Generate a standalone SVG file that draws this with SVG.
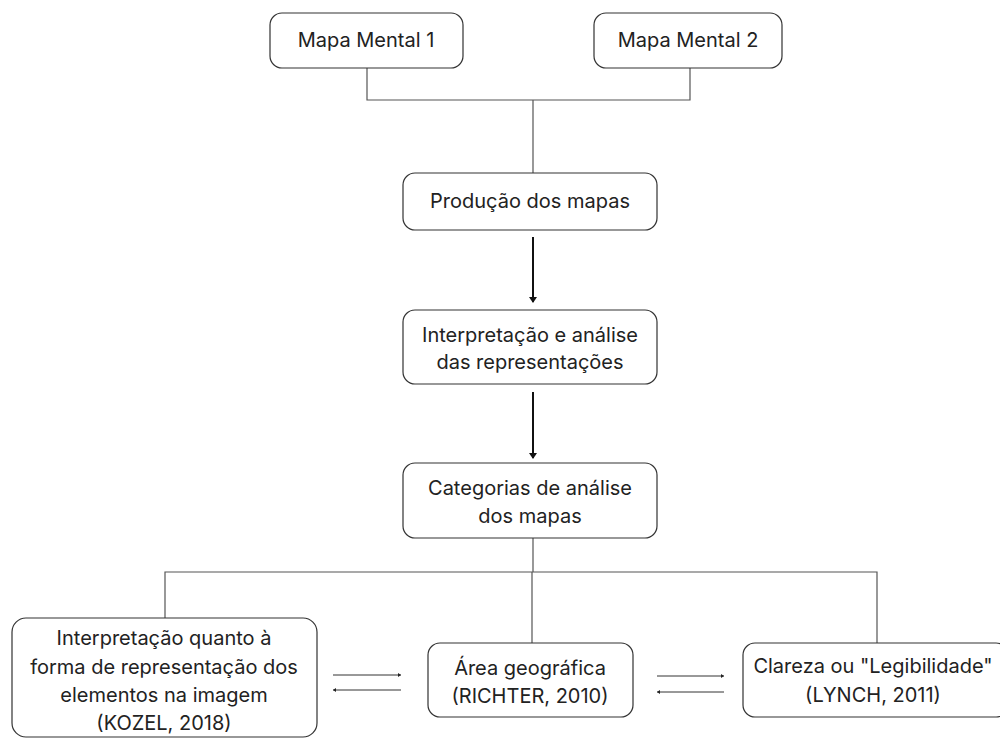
<svg xmlns="http://www.w3.org/2000/svg" width="1000" height="738" viewBox="0 0 1000 738">
<style>
.box{fill:#fff;stroke:#333;stroke-width:1.2}
.t{font-family:Inter,"Open Sans",sans-serif;font-size:20px;fill:#222;text-anchor:middle}
.c{fill:none;stroke:#555;stroke-width:1.2}
.a{fill:none;stroke:#111;stroke-width:2}
.s{fill:none;stroke:#333;stroke-width:1}
</style>
<defs>
<marker id="ah" markerWidth="8" markerHeight="8" refX="5" refY="4" orient="auto" markerUnits="userSpaceOnUse"><path d="M0,0 L6,4 L0,8 z" fill="#111"/></marker>
<marker id="sh" markerWidth="4" markerHeight="4" refX="3" refY="2" orient="auto" markerUnits="userSpaceOnUse"><path d="M0,0 L3,2 L0,4 z" fill="#222"/></marker>
</defs>
<rect width="1000" height="738" fill="#fff"/>
<g id="connectors">
<path class="c" d="M367,68 V100 H690 V68 M533,100 V173"/>
<line class="a" x1="533" y1="237" x2="533" y2="302" marker-end="url(#ah)"/>
<line class="a" x1="533" y1="392" x2="533" y2="458" marker-end="url(#ah)"/>
<path class="c" d="M533,538 V572 M165,618 V572 H877 V643 M532,572 V643"/>
<line class="s" x1="333" y1="675" x2="401" y2="675" marker-end="url(#sh)"/>
<line class="s" x1="401" y1="690" x2="333" y2="690" marker-end="url(#sh)"/>
<line class="s" x1="657" y1="676" x2="724" y2="676" marker-end="url(#sh)"/>
<line class="s" x1="724" y1="692" x2="657" y2="692" marker-end="url(#sh)"/>
</g>
<g id="mapa1"><rect class="box" x="270" y="13" width="193" height="55" rx="12"/><text class="t" x="366" y="47">Mapa Mental 1</text></g>
<g id="mapa2"><rect class="box" x="594" y="13" width="188" height="55" rx="12"/><text class="t" x="688" y="47">Mapa Mental 2</text></g>
<g id="producao"><rect class="box" x="403" y="173" width="254" height="57" rx="12"/><text class="t" x="530" y="208">Produção dos mapas</text></g>
<g id="interpretacao"><rect class="box" x="403" y="310" width="254" height="74" rx="12"/><text class="t" x="530" y="342">Interpretação e análise</text><text class="t" x="530" y="369">das representações</text></g>
<g id="categorias"><rect class="box" x="403" y="463" width="254" height="75" rx="12"/><text class="t" x="530" y="495">Categorias de análise</text><text class="t" x="530" y="523">dos mapas</text></g>
<g id="kozel"><rect class="box" x="12" y="618" width="305" height="119" rx="14"/><text class="t" x="164" y="645">Interpretação quanto à</text><text class="t" x="164" y="674">forma de representação dos</text><text class="t" x="164" y="702">elementos na imagem</text><text class="t" x="164" y="730">(KOZEL, 2018)</text></g>
<g id="richter"><rect class="box" x="428" y="643" width="205" height="74" rx="12"/><text class="t" x="530" y="675">Área geográfica</text><text class="t" x="530" y="703">(RICHTER, 2010)</text></g>
<g id="lynch"><rect class="box" x="743" y="643" width="265" height="74" rx="12"/><text class="t" x="873" y="673">Clareza ou "Legibilidade"</text><text class="t" x="873" y="702">(LYNCH, 2011)</text></g>
</svg>
